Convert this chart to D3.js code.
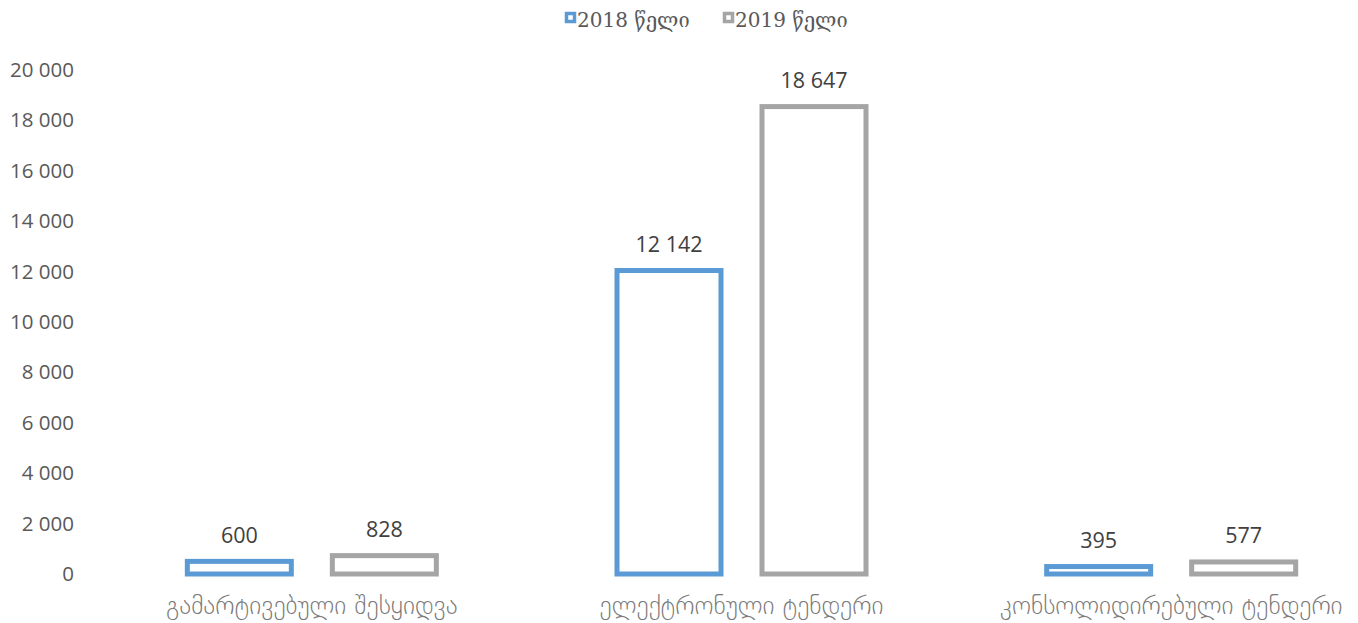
<!DOCTYPE html>
<html><head><meta charset="utf-8">
<script src="https://cdn.jsdelivr.net/npm/d3@7"></script>
<style>body{margin:0;background:#fff}</style>
</head><body>
<svg id="c" width="1358" height="623"></svg>
<script>
const categories = ["გამარტივებული შესყიდვა", "ელექტრონული ტენდერი", "კონსოლიდირებული ტენდერი"];
const seriesNames = ["2018 წელი", "2019 წელი"];
const values2018 = [600, 12142, 395];
const values2019 = [828, 18647, 577];
const yTicks = [0, 2000, 4000, 6000, 8000, 10000, 12000, 14000, 16000, 18000, 20000];
const colors = ["#5b9bd5", "#a5a5a5"];

const svg = d3.select("#c");
const y = d3.scaleLinear().domain([0, 20000]).range([574, 70]);
const x0 = d3.scaleBand().domain(categories).range([97, 1386]).paddingInner(0).paddingOuter(0);
const fmt = v => d3.format(",")(v).replace(/,/g, " ");

// y tick labels
const yAxis = d3.axisLeft(y).tickValues(yTicks).tickFormat(fmt).tickSize(0).tickPadding(0);
const ga = svg.append("g").attr("transform", "translate(74,0)").call(yAxis);
ga.select(".domain").remove();
ga.selectAll("text").attr("font-family", "'Open Sans', 'DejaVu Sans', sans-serif").attr("font-size", 20.5).attr("fill", "#595959");

// x category labels
const xAxis = d3.axisBottom(x0).tickSize(0).tickPadding(0);
const gx = svg.append("g").attr("transform", "translate(0,596)").call(xAxis);
gx.select(".domain").remove();
gx.selectAll("text").attr("font-family", "'DejaVu Sans', sans-serif").attr("font-weight", 200).attr("font-size", 25.5).attr("fill", "#7a7a7a");

const data = categories.map((c, i) => ({cat: c, vals: [values2018[i], values2019[i]]}));
const sw = 5;
const barW = 109, gap = 36;
data.forEach(d => {
  const cx = x0(d.cat) + x0.bandwidth() / 2;
  d.vals.forEach((v, j) => {
    const left = cx - gap / 2 - barW + j * (barW + gap);
    const top = y(v), bot = y(0);
    svg.append("rect")
      .attr("x", left + sw / 2).attr("y", top + sw / 2)
      .attr("width", barW - sw).attr("height", Math.max(0, bot - top - sw / 2))
      .attr("fill", "#fff").attr("stroke", colors[j]).attr("stroke-width", sw);
    svg.append("text").attr("x", left + barW / 2).attr("y", top - 16)
      .attr("text-anchor", "middle")
      .attr("font-family", "'Open Sans', 'DejaVu Sans', sans-serif").attr("font-size", 21.5)
      .attr("fill", "#404040").text(fmt(v));
  });
});

// legend
const legX = [565, 723];
seriesNames.forEach((s, j) => {
  svg.append("rect").attr("x", legX[j] + 1.5).attr("y", 13.5).attr("width", 8).attr("height", 8)
    .attr("fill", "#fff").attr("stroke", colors[j]).attr("stroke-width", 3.5);
  svg.append("text").attr("x", legX[j] + 12).attr("y", 27)
    .attr("font-family", "'DejaVu Serif', serif").attr("font-size", 20)
    .attr("fill", "#595959").text(s);
});
</script>
</body></html>
